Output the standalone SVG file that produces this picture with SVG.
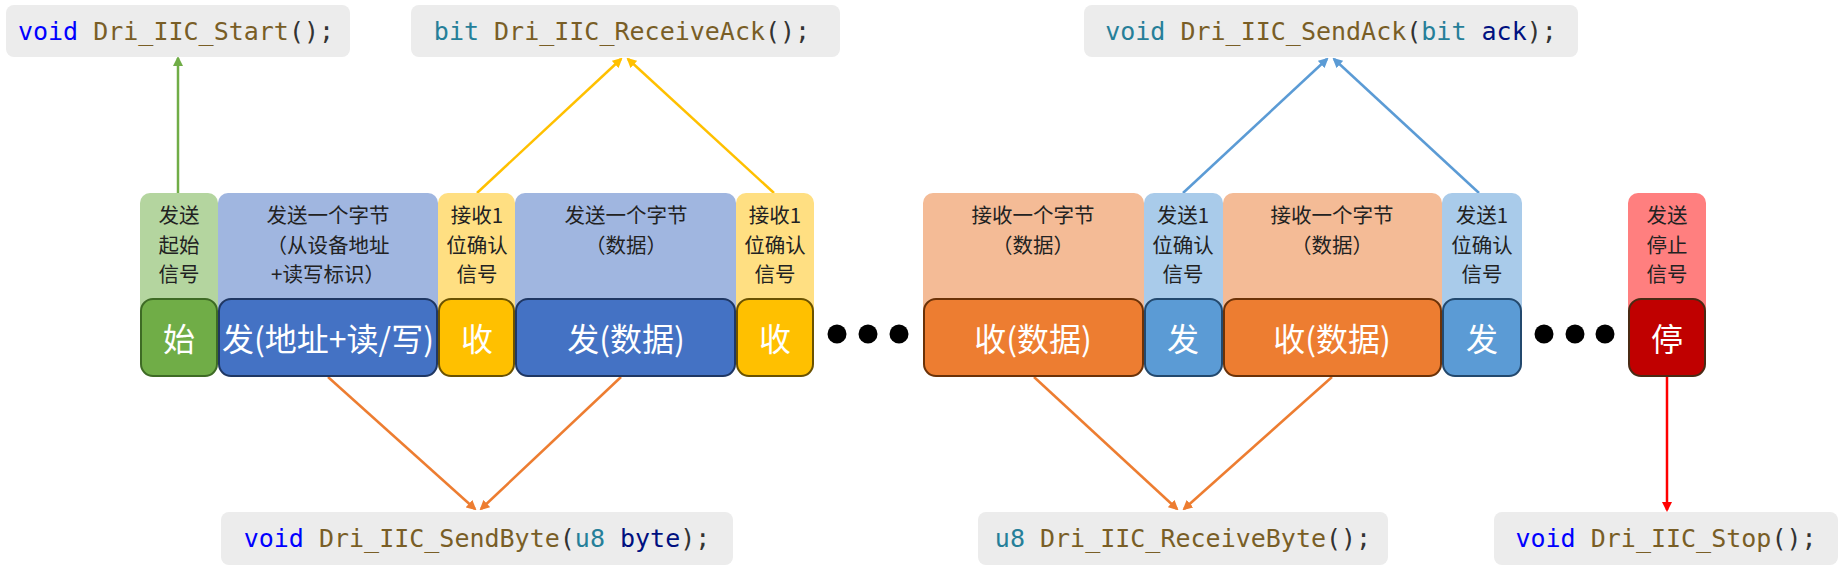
<svg xmlns="http://www.w3.org/2000/svg" width="1844" height="569" viewBox="0 0 1844 569">
<style>
.code{fill:#ececec}
.ct{font-family:"DejaVu Sans Mono","Liberation Mono",monospace;font-size:25px;text-anchor:middle;fill:#333}
.kw{fill:#0000ff}.ty{fill:#267f99}.fn{fill:#795e26}.pr{fill:#001080}
.up{font-family:"Noto Sans CJK SC",sans-serif;font-size:20.5px;text-anchor:middle;fill:#222;dominant-baseline:central}
.lo{font-family:"Noto Sans CJK SC",sans-serif;font-size:32px;text-anchor:middle;fill:#fff;dominant-baseline:central}
.lb{stroke-width:2}
.cn{fill:none;stroke-width:2.5}
</style>
<defs>
<marker id="ag" markerWidth="10" markerHeight="10" refX="8" refY="5" orient="auto" markerUnits="userSpaceOnUse"><path d="M0,0 L10,5 L0,10 z" fill="#70ad47"/></marker>
<marker id="ay" markerWidth="10" markerHeight="10" refX="8" refY="5" orient="auto" markerUnits="userSpaceOnUse"><path d="M0,0 L10,5 L0,10 z" fill="#ffc000"/></marker>
<marker id="ab" markerWidth="10" markerHeight="10" refX="8" refY="5" orient="auto" markerUnits="userSpaceOnUse"><path d="M0,0 L10,5 L0,10 z" fill="#5b9bd5"/></marker>
<marker id="ao" markerWidth="10" markerHeight="10" refX="8" refY="5" orient="auto" markerUnits="userSpaceOnUse"><path d="M0,0 L10,5 L0,10 z" fill="#ed7d31"/></marker>
<marker id="ar" markerWidth="10" markerHeight="10" refX="8" refY="5" orient="auto" markerUnits="userSpaceOnUse"><path d="M0,0 L10,5 L0,10 z" fill="#ff0000"/></marker>
</defs>
<rect width="1844" height="569" fill="#fff"/>

<g id="connectors">
<line class="cn" stroke="#70ad47" x1="178" y1="193" x2="178" y2="58" marker-end="url(#ag)"/>
<line class="cn" stroke="#ffc000" x1="477" y1="193" x2="621" y2="59" marker-end="url(#ay)"/>
<line class="cn" stroke="#ffc000" x1="774" y1="193" x2="628" y2="59" marker-end="url(#ay)"/>
<line class="cn" stroke="#5b9bd5" x1="1183" y1="193" x2="1327" y2="59" marker-end="url(#ab)"/>
<line class="cn" stroke="#5b9bd5" x1="1479" y1="193" x2="1334" y2="59" marker-end="url(#ab)"/>
<line class="cn" stroke="#ed7d31" x1="328" y1="377" x2="475" y2="509" marker-end="url(#ao)"/>
<line class="cn" stroke="#ed7d31" x1="621" y1="377" x2="481" y2="509" marker-end="url(#ao)"/>
<line class="cn" stroke="#ed7d31" x1="1034" y1="377" x2="1177" y2="509" marker-end="url(#ao)"/>
<line class="cn" stroke="#ed7d31" x1="1332" y1="377" x2="1184" y2="509" marker-end="url(#ao)"/>
<line class="cn" stroke="#ff0000" x1="1667" y1="377" x2="1667" y2="510" marker-end="url(#ar)"/>
</g>

<g id="fn-start"><rect class="code" x="6" y="5" width="344" height="52" rx="8"/>
<text class="ct" x="176" y="40"><tspan class="kw">void</tspan> <tspan class="fn">Dri_IIC_Start</tspan>();</text></g>
<g id="fn-receiveack"><rect class="code" x="411" y="5" width="429" height="52" rx="8"/>
<text class="ct" x="622" y="40"><tspan class="ty">bit</tspan> <tspan class="fn">Dri_IIC_ReceiveAck</tspan>();</text></g>
<g id="fn-sendack"><rect class="code" x="1084" y="5" width="494" height="52" rx="8"/>
<text class="ct" x="1331" y="40"><tspan class="ty">void</tspan> <tspan class="fn">Dri_IIC_SendAck</tspan>(<tspan class="ty">bit</tspan> <tspan class="pr">ack</tspan>);</text></g>
<g id="fn-sendbyte"><rect class="code" x="221" y="512" width="512" height="53" rx="8"/>
<text class="ct" x="477" y="547"><tspan class="kw">void</tspan> <tspan class="fn">Dri_IIC_SendByte</tspan>(<tspan class="ty">u8</tspan> <tspan class="pr">byte</tspan>);</text></g>
<g id="fn-receivebyte"><rect class="code" x="978" y="512" width="410" height="53" rx="8"/>
<text class="ct" x="1183" y="547"><tspan class="ty">u8</tspan> <tspan class="fn">Dri_IIC_ReceiveByte</tspan>();</text></g>
<g id="fn-stop"><rect class="code" x="1494" y="512" width="344" height="53" rx="8"/>
<text class="ct" x="1666" y="547"><tspan class="kw">void</tspan> <tspan class="fn">Dri_IIC_Stop</tspan>();</text></g>

<g id="n-start">
<rect x="140" y="193" width="78" height="140" rx="10" fill="#b4d59f"/>
<text class="up"><tspan x="179" y="214">发送</tspan><tspan x="179" y="243.5">起始</tspan><tspan x="179" y="273">信号</tspan></text>
<rect class="lb" x="141" y="299" width="76" height="77" rx="12" fill="#70ad47" stroke="#3e6b25"/>
<text class="lo" x="179" y="337">始</text></g>

<g id="n-addr">
<rect x="218" y="193" width="220" height="140" rx="10" fill="#a0b6e0"/>
<text class="up"><tspan x="328" y="214">发送一个字节</tspan><tspan x="328" y="243.5">（从设备地址</tspan><tspan x="328" y="273">+读写标识）</tspan></text>
<rect class="lb" x="219" y="299" width="218" height="77" rx="12" fill="#4472c4" stroke="#1f3763"/>
<text class="lo" x="328" y="337">发(地址+读/写)</text></g>

<g id="n-ack1">
<rect x="438" y="193" width="77" height="140" rx="10" fill="#ffdf82"/>
<text class="up"><tspan x="477" y="214">接收1</tspan><tspan x="477" y="243.5">位确认</tspan><tspan x="477" y="273">信号</tspan></text>
<rect class="lb" x="439" y="299" width="75" height="77" rx="12" fill="#ffc000" stroke="#6b5200"/>
<text class="lo" x="477" y="337">收</text></g>

<g id="n-data1">
<rect x="515" y="193" width="221" height="140" rx="10" fill="#a0b6e0"/>
<text class="up"><tspan x="626" y="214">发送一个字节</tspan><tspan x="626" y="243.5">（数据）</tspan></text>
<rect class="lb" x="516" y="299" width="219" height="77" rx="12" fill="#4472c4" stroke="#1f3763"/>
<text class="lo" x="626" y="337">发(数据)</text></g>

<g id="n-ack2">
<rect x="736" y="193" width="78" height="140" rx="10" fill="#ffdf82"/>
<text class="up"><tspan x="775" y="214">接收1</tspan><tspan x="775" y="243.5">位确认</tspan><tspan x="775" y="273">信号</tspan></text>
<rect class="lb" x="737" y="299" width="76" height="77" rx="12" fill="#ffc000" stroke="#6b5200"/>
<text class="lo" x="775" y="337">收</text></g>

<g id="dots1" fill="#000"><circle cx="837" cy="334" r="9.5"/><circle cx="868" cy="334" r="9.5"/><circle cx="899" cy="334" r="9.5"/></g>

<g id="n-recv1">
<rect x="923" y="193" width="221" height="140" rx="10" fill="#f4bb96"/>
<text class="up"><tspan x="1033" y="214">接收一个字节</tspan><tspan x="1033" y="243.5">（数据）</tspan></text>
<rect class="lb" x="924" y="299" width="219" height="77" rx="12" fill="#ed7d31" stroke="#6b3208"/>
<text class="lo" x="1033" y="337">收(数据)</text></g>

<g id="n-sack1">
<rect x="1144" y="193" width="79" height="140" rx="10" fill="#a9cbea"/>
<text class="up"><tspan x="1183" y="214">发送1</tspan><tspan x="1183" y="243.5">位确认</tspan><tspan x="1183" y="273">信号</tspan></text>
<rect class="lb" x="1145" y="299" width="77" height="77" rx="12" fill="#5b9bd5" stroke="#23496e"/>
<text class="lo" x="1183" y="337">发</text></g>

<g id="n-recv2">
<rect x="1223" y="193" width="219" height="140" rx="10" fill="#f4bb96"/>
<text class="up"><tspan x="1332" y="214">接收一个字节</tspan><tspan x="1332" y="243.5">（数据）</tspan></text>
<rect class="lb" x="1224" y="299" width="217" height="77" rx="12" fill="#ed7d31" stroke="#6b3208"/>
<text class="lo" x="1332" y="337">收(数据)</text></g>

<g id="n-sack2">
<rect x="1442" y="193" width="80" height="140" rx="10" fill="#a9cbea"/>
<text class="up"><tspan x="1482" y="214">发送1</tspan><tspan x="1482" y="243.5">位确认</tspan><tspan x="1482" y="273">信号</tspan></text>
<rect class="lb" x="1443" y="299" width="78" height="77" rx="12" fill="#5b9bd5" stroke="#23496e"/>
<text class="lo" x="1482" y="337">发</text></g>

<g id="dots2" fill="#000"><circle cx="1544" cy="334" r="9.5"/><circle cx="1575" cy="334" r="9.5"/><circle cx="1605" cy="334" r="9.5"/></g>

<g id="n-stop">
<rect x="1628" y="193" width="78" height="140" rx="10" fill="#ff7f7f"/>
<text class="up"><tspan x="1667" y="214">发送</tspan><tspan x="1667" y="243.5">停止</tspan><tspan x="1667" y="273">信号</tspan></text>
<rect class="lb" x="1629" y="299" width="76" height="77" rx="12" fill="#c00000" stroke="#4a2a14"/>
<text class="lo" x="1667" y="337">停</text></g>
</svg>
